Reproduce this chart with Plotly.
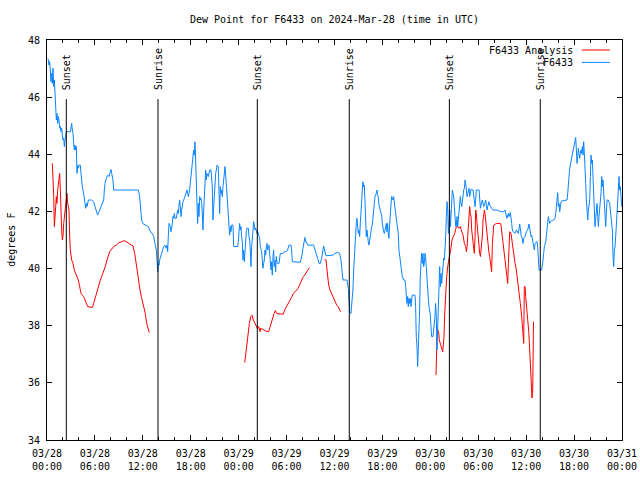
import plotly.graph_objects as go
from datetime import datetime, timedelta

BASE = datetime(2024, 3, 28)

# ---- F6433 observations (hours since 2024-03-28 00:00 UTC, dew point degF)
blue_h = [0.10,0.17,0.25,0.33,0.42,0.50,0.58,0.67,0.75,0.84,0.92,1.00,1.09,1.17,1.25,1.34,1.42,1.50,1.59,1.67,1.75,1.84,1.92,2.00,2.09,2.17,2.25,2.34,2.42,2.92,3.01,3.09,3.17,3.26,3.34,3.42,3.51,3.59,3.67,3.76,3.84,3.92,4.01,4.17,4.26,4.34,4.42,4.59,4.67,4.76,4.84,4.93,5.01,5.18,5.59,5.84,6.01,6.18,6.34,6.43,6.59,6.76,6.93,7.10,7.18,7.26,7.43,7.60,7.76,7.93,8.01,8.10,8.26,8.35,11.44,11.60,11.69,11.85,12.02,12.44,12.69,12.85,13.02,13.19,13.36,13.52,13.69,13.77,13.86,13.94,14.02,14.11,14.27,14.44,14.61,14.77,14.94,15.03,15.11,15.19,15.28,15.44,15.53,15.61,15.69,15.78,15.86,15.94,16.03,16.19,16.36,16.44,16.53,16.61,16.69,16.78,16.86,17.03,17.20,17.36,17.53,17.61,17.70,17.86,17.95,18.20,18.28,18.36,18.45,18.53,18.61,18.70,18.78,18.86,18.95,19.03,19.12,19.20,19.28,19.37,19.45,19.53,19.62,19.70,19.78,19.87,19.95,20.03,20.20,20.37,20.53,20.62,20.70,20.78,20.87,20.95,21.04,21.12,21.20,21.29,21.45,21.54,21.62,21.70,21.79,21.87,21.95,22.04,22.20,22.29,22.45,22.62,22.70,22.79,22.87,22.95,23.04,23.12,23.29,23.37,23.87,23.96,24.04,24.12,24.21,24.29,24.37,24.46,24.54,24.62,24.71,24.79,24.87,24.96,25.04,25.21,25.29,25.38,25.46,25.54,25.63,25.71,25.79,25.88,25.96,26.04,26.13,26.29,26.38,26.54,26.63,26.71,26.79,26.88,26.96,27.04,27.13,27.21,27.30,27.38,27.46,27.55,27.63,27.71,27.80,27.88,27.96,28.05,28.13,28.21,28.30,28.38,28.46,28.55,28.63,28.71,28.80,28.88,29.05,29.13,29.21,29.55,29.72,29.97,30.13,30.30,30.55,30.63,30.72,31.72,31.80,31.97,32.05,32.14,32.22,32.30,32.39,32.47,32.64,33.39,33.56,33.72,33.89,34.06,34.22,34.39,34.56,34.64,34.72,34.89,35.06,35.81,36.06,36.39,36.64,36.73,36.81,36.89,36.98,37.06,37.56,37.65,37.73,37.81,37.90,38.06,38.15,38.23,38.31,38.40,38.48,38.56,38.65,38.73,38.81,38.90,38.98,39.06,39.15,39.23,39.31,39.40,39.48,39.56,39.65,39.73,39.82,39.90,39.98,40.07,40.15,40.23,40.32,40.40,40.48,40.57,40.65,40.73,40.82,40.90,41.07,41.23,41.32,41.40,41.48,41.57,41.74,41.90,41.99,42.07,42.15,42.24,42.32,42.40,42.49,42.57,42.65,42.74,42.82,42.90,42.99,43.07,43.15,43.24,43.32,43.40,43.49,43.57,43.66,43.82,43.99,44.07,44.24,44.32,44.49,44.66,44.82,44.91,44.99,45.07,45.16,45.24,45.32,45.41,45.49,45.58,45.66,45.74,46.08,46.16,46.24,46.33,46.41,46.49,46.58,46.66,46.74,46.83,46.91,46.99,47.08,47.16,47.24,47.33,47.41,47.49,47.58,47.75,47.83,48.00,48.08,48.16,48.33,48.41,48.50,48.58,48.66,48.75,48.83,48.92,49.01,49.09,49.17,49.26,49.34,49.42,49.51,49.59,49.67,49.76,49.84,49.92,50.01,50.09,50.18,50.26,50.34,50.43,50.51,50.59,50.68,50.76,50.84,50.93,51.01,51.09,51.18,51.26,51.34,51.43,51.51,51.59,51.68,51.76,51.85,51.93,52.01,52.10,52.18,52.26,52.35,52.43,52.51,52.60,52.68,52.76,52.85,52.93,53.01,53.10,53.35,53.51,53.60,53.68,53.76,54.10,54.18,54.27,54.35,54.43,54.52,54.60,54.68,54.77,54.85,54.93,55.02,55.10,55.18,55.27,55.35,55.43,55.52,55.68,55.85,56.35,56.77,57.19,57.35,57.52,57.60,57.77,57.85,58.02,58.10,58.19,58.27,58.36,58.61,58.77,59.02,59.11,59.19,59.27,59.36,59.52,59.61,59.69,59.86,60.03,60.19,60.36,60.44,60.53,60.61,60.69,60.78,60.86,60.94,61.03,61.11,61.36,61.44,61.53,61.61,61.94,62.03,62.11,62.19,62.28,62.45,62.53,62.61,62.70,62.78,62.86,62.95,63.03,63.20,63.45,63.61,63.70,63.78,63.86,63.95,64.03,64.12,64.20,64.28,64.37,64.62,65.12,65.20,65.28,65.37,65.45,65.53,65.62,65.70,65.79,65.87,65.95,66.04,66.12,66.20,66.29,66.37,66.45,66.54,66.62,66.70,66.79,66.87,66.95,67.04,67.12,67.20,67.29,67.37,67.45,67.54,67.62,67.71,67.79,67.87,67.96,68.04,68.12,68.21,68.29,68.37,68.46,68.54,68.62,68.71,68.79,68.87,68.96,69.04,69.12,69.21,69.29,69.37,69.46,69.54,69.62,69.71,69.79,69.88,69.96,70.04,70.13,70.29,70.46,70.54,70.71,70.79,70.88,70.96,71.04,71.13,71.21,71.29,71.38,71.46,71.54,71.63,71.71,71.79,71.88,71.96]
blue_v = [47.35,47.30,47.12,47.24,46.95,46.54,46.83,46.48,47.01,46.37,46.60,46.13,45.49,45.20,45.43,45.08,45.32,45.20,44.91,44.97,44.79,44.91,44.67,44.50,44.56,44.27,44.50,44.67,44.79,44.79,44.91,45.08,44.85,44.73,44.38,44.15,44.32,44.15,44.27,43.33,43.62,43.51,43.62,43.62,43.33,42.98,42.87,42.63,42.28,42.28,42.11,42.28,42.17,42.40,42.40,42.34,42.17,42.05,41.87,41.93,42.05,42.17,42.34,42.40,42.75,42.98,43.16,43.27,43.22,43.45,43.47,43.33,43.10,42.75,42.75,42.52,42.05,41.70,41.57,41.50,41.47,41.35,41.26,41.23,41.12,40.88,40.65,40.30,39.89,40.18,40.12,40.30,40.47,40.65,40.77,40.82,40.71,40.82,40.59,41.12,41.58,41.47,41.29,41.41,41.58,41.82,41.76,41.93,41.76,41.76,42.05,41.93,42.22,42.40,42.17,41.82,42.05,42.34,42.46,42.63,42.75,42.63,42.52,42.75,42.98,43.51,43.92,44.15,43.97,44.44,43.80,42.98,42.28,41.58,42.28,41.82,42.52,42.40,42.46,42.28,41.93,41.35,42.05,42.52,42.87,43.45,43.10,43.33,43.22,43.45,43.45,43.22,42.87,41.70,42.17,42.52,43.22,43.33,43.45,43.62,43.57,42.75,41.93,42.87,42.63,42.75,42.52,42.87,43.27,43.57,42.98,42.17,41.58,41.47,41.17,41.47,41.29,41.52,41.52,40.77,40.77,40.94,41.35,41.58,41.35,41.47,41.12,40.94,40.30,40.65,40.24,40.77,41.12,41.29,41.41,41.41,41.12,41.00,40.65,40.07,40.77,41.12,41.35,41.64,41.52,41.35,41.41,41.23,41.29,41.06,41.06,40.77,40.65,40.59,40.30,40.01,40.18,40.30,40.65,40.47,40.77,40.88,40.65,40.77,40.82,40.53,40.18,39.95,40.24,39.77,40.42,40.65,40.07,40.30,39.89,40.42,40.24,40.18,40.18,40.42,40.53,40.53,40.59,40.59,40.65,40.82,40.82,40.65,40.24,40.22,40.30,40.53,40.71,40.88,41.00,41.09,40.94,40.94,40.82,40.82,40.65,40.53,40.36,40.18,40.18,40.36,40.65,40.79,40.71,40.47,40.45,40.47,40.53,40.57,40.53,40.45,40.30,40.07,39.77,39.60,39.60,39.48,39.31,38.90,38.49,38.43,38.67,39.02,39.25,39.95,40.42,40.88,41.12,41.58,41.76,41.47,41.23,41.35,41.12,41.58,41.82,42.34,42.75,43.04,42.87,42.92,42.34,41.70,41.12,41.35,41.00,40.94,40.82,41.00,41.29,41.29,41.47,41.52,41.82,42.22,42.52,42.63,42.75,42.57,42.52,42.22,42.05,41.87,41.58,41.35,41.29,41.23,41.35,41.47,41.58,41.29,41.58,41.17,41.06,41.52,42.05,42.28,42.52,42.46,42.40,42.52,42.22,42.17,41.93,41.58,41.23,40.65,40.30,40.07,39.72,39.60,39.60,39.37,38.96,38.78,39.02,38.67,38.96,38.78,38.96,38.67,38.90,39.07,39.07,38.67,37.62,37.27,36.57,37.03,37.73,38.55,39.72,40.42,40.53,40.18,40.53,40.07,40.18,40.53,40.42,40.07,39.48,38.96,38.67,38.38,37.97,37.62,37.62,37.85,37.97,38.32,38.78,38.32,37.15,37.85,38.55,39.48,40.07,39.37,39.83,39.48,39.72,40.18,40.36,40.30,40.65,41.12,41.82,42.34,42.05,41.23,41.58,42.05,41.47,41.82,42.40,42.75,42.63,42.52,42.17,41.82,41.47,41.52,41.82,41.47,41.70,41.82,42.22,42.52,42.28,42.17,42.34,42.63,42.75,42.81,43.10,42.98,42.75,42.52,42.63,42.75,42.81,42.52,42.69,42.77,42.75,42.40,42.17,42.40,42.75,42.75,42.28,42.11,42.22,42.34,42.40,42.28,42.17,42.22,42.34,42.40,42.22,42.05,42.17,42.28,42.34,42.22,42.17,42.11,42.05,42.05,41.99,41.99,42.05,41.82,41.76,41.93,41.82,41.96,41.82,41.58,41.35,41.29,41.23,41.35,41.23,41.47,41.56,41.41,41.17,41.06,40.88,41.06,41.12,41.29,41.35,41.56,41.35,41.23,41.12,41.17,41.00,40.88,40.71,40.65,40.88,40.94,40.77,40.30,39.95,39.95,40.07,40.30,40.53,40.77,40.94,41.12,41.35,41.64,41.82,41.70,41.58,41.64,41.68,41.70,41.76,41.93,42.28,42.40,42.66,42.17,42.28,41.99,42.17,42.34,42.38,42.40,42.63,43.10,43.22,43.51,43.62,43.80,43.92,44.03,44.15,44.27,44.33,44.56,44.59,44.15,43.68,43.92,44.21,44.03,43.86,44.03,44.15,44.03,44.27,43.97,44.44,44.03,43.68,42.98,42.40,42.17,41.70,42.05,42.17,42.40,43.22,43.97,43.68,43.80,43.22,42.52,41.82,41.47,41.76,42.05,42.28,41.82,41.47,41.82,42.05,42.28,42.63,43.22,42.87,43.10,42.75,42.28,41.82,41.47,41.93,42.40,42.40,42.28,42.05,41.70,41.35,40.42,40.07,40.65,40.77,41.12,41.47,41.82,42.52,42.75,43.22,42.75,42.87,42.52,42.17]

# ---- F6433 Analysis (None = gap in the series)
red_h = [0.67,0.75,0.84,0.92,1.00,1.09,1.17,1.25,1.34,1.42,1.50,1.59,1.67,1.75,1.84,1.92,2.00,2.09,2.17,2.25,2.34,2.42,2.50,2.59,2.67,2.75,2.84,2.92,3.09,3.26,3.42,3.59,3.76,3.92,4.09,4.26,4.42,4.59,4.76,4.93,5.09,5.26,5.68,5.84,6.01,6.18,6.34,6.51,6.68,6.85,7.01,7.18,7.35,7.51,7.68,7.85,8.01,8.35,8.68,9.02,9.35,9.68,10.02,10.43,10.77,10.98,11.14,11.31,11.48,11.65,11.81,11.98,12.15,12.31,12.48,12.65,12.81,
         None,
         24.76,24.92,25.17,25.34,25.51,25.67,25.84,26.18,26.34,26.51,26.68,26.76,27.09,27.43,27.76,27.93,28.10,28.26,28.43,28.60,28.76,29.18,29.60,29.76,30.02,30.27,30.43,30.68,30.85,31.10,31.27,31.43,31.60,31.77,31.93,32.10,32.27,32.44,32.60,32.85,
         None,
         34.77,34.94,35.02,35.11,35.19,35.27,35.44,35.61,35.77,35.94,36.11,36.28,36.44,36.61,36.78,
         None,
         48.71,48.80,48.87,49.05,49.12,49.30,49.46,49.55,49.63,49.71,49.80,49.88,49.96,50.05,50.13,50.21,50.30,50.55,50.71,50.88,51.05,51.26,51.43,51.59,51.76,51.93,52.10,52.26,52.43,52.51,52.60,52.68,52.76,52.85,52.93,53.01,53.10,53.18,53.26,53.35,53.43,53.51,53.60,53.68,53.76,53.85,53.93,54.02,54.10,54.18,54.27,54.35,54.43,54.52,54.60,54.68,54.77,54.85,54.93,55.02,55.10,55.18,55.27,55.35,55.43,55.52,55.60,55.68,55.77,55.85,55.94,56.27,56.77,56.85,56.94,57.02,57.10,57.19,57.27,57.35,57.44,57.60,57.69,57.77,57.85,57.94,58.10,58.27,58.36,58.44,58.61,58.77,58.94,59.11,59.27,59.44,59.52,59.61,59.69,59.77,59.86,59.94,60.03,60.15,60.23,60.32,60.40,60.48,60.57,60.65,60.73,60.82,60.90,60.92]
red_v = [43.68,43.22,42.52,41.47,41.70,42.17,42.52,42.28,42.75,42.98,43.22,43.33,42.75,41.82,41.35,41.00,41.12,41.58,41.82,42.05,42.28,42.52,42.63,42.28,42.17,42.05,41.12,40.65,40.30,40.18,39.95,39.83,39.72,39.60,39.37,39.13,39.07,39.02,38.90,38.78,38.67,38.66,38.64,38.78,38.96,39.13,39.31,39.48,39.60,39.72,39.83,39.95,40.12,40.30,40.47,40.59,40.65,40.77,40.82,40.91,40.94,40.98,40.92,40.86,40.79,40.53,40.18,39.95,39.60,39.25,39.02,38.84,38.67,38.43,38.08,37.85,37.76,
         None,
         36.71,37.15,37.62,38.08,38.32,38.37,38.20,37.97,37.91,37.97,37.79,37.91,37.85,37.81,37.79,37.97,38.14,38.32,38.43,38.53,38.43,38.41,38.41,38.55,38.67,38.78,38.90,39.02,39.13,39.19,39.25,39.31,39.42,39.54,39.62,39.72,39.77,39.86,39.95,40.03,
         None,
         40.32,40.30,40.07,39.83,39.60,39.42,39.25,39.13,39.02,38.90,38.78,38.72,38.67,38.57,38.49,
         None,
         36.27,37.15,37.92,37.74,37.50,37.33,37.20,37.09,37.33,37.62,38.43,39.02,39.48,39.72,39.95,40.18,40.30,40.65,41.00,41.12,41.23,41.47,41.47,41.41,41.47,41.29,41.17,40.88,40.77,40.59,40.77,41.12,41.58,42.17,42.17,41.93,41.82,41.35,41.12,40.88,40.77,40.53,41.12,42.05,41.93,41.58,41.23,40.88,40.65,40.53,40.42,40.65,40.88,41.17,41.70,41.82,42.05,41.93,41.70,41.35,41.00,40.77,40.65,40.53,40.42,40.18,40.07,39.89,40.88,41.41,41.52,41.58,41.58,41.52,41.29,41.12,40.88,40.59,40.42,40.18,39.95,39.72,39.48,40.18,40.65,41.29,41.23,40.88,40.59,40.42,40.18,39.95,39.60,39.25,38.78,38.32,37.85,37.50,37.38,39.37,39.37,39.02,38.78,38.50,38.10,37.80,37.40,36.90,36.87,36.10,35.47,35.75,36.80,38.14]

# ---- sun events
sun_times = ["2024-03-28 02:25", "2024-03-28 13:54", "2024-03-29 02:20",
             "2024-03-29 13:51", "2024-03-30 02:23", "2024-03-30 13:46"]
sun_labels = ["Sunset", "Sunrise", "Sunset", "Sunrise", "Sunset", "Sunrise"]
sun_line_top = 45.93
sun_label_y = 46.18

# ---- axes
x_tick_vals = ["2024-03-28 00:00", "2024-03-28 06:00", "2024-03-28 12:00", "2024-03-28 18:00",
               "2024-03-29 00:00", "2024-03-29 06:00", "2024-03-29 12:00", "2024-03-29 18:00",
               "2024-03-30 00:00", "2024-03-30 06:00", "2024-03-30 12:00", "2024-03-30 18:00",
               "2024-03-31 00:00"]
x_tick_text = ["03/28<br>00:00", "03/28<br>06:00", "03/28<br>12:00", "03/28<br>18:00",
               "03/29<br>00:00", "03/29<br>06:00", "03/29<br>12:00", "03/29<br>18:00",
               "03/30<br>00:00", "03/30<br>06:00", "03/30<br>12:00", "03/30<br>18:00",
               "03/31<br>00:00"]
y_range = [34, 48]
legend_names = ["F6433 Analysis", "F6433"]
colors = ["#ff0000", "#0a84ff"]


def to_t(hs):
    return [None if h is None else BASE + timedelta(hours=h) for h in hs]


FONT = "DejaVu Sans Mono"

fig = go.Figure()
fig.add_trace(go.Scatter(x=to_t(red_h), y=red_v, mode="lines", name=legend_names[0],
                         line=dict(color=colors[0], width=1), connectgaps=False))
fig.add_trace(go.Scatter(x=to_t(blue_h), y=blue_v, mode="lines", name=legend_names[1],
                         line=dict(color=colors[1], width=1)))

for t, lab in zip(sun_times, sun_labels):
    fig.add_shape(type="line", xref="x", yref="y", x0=t, x1=t, y0=y_range[0], y1=sun_line_top,
                  line=dict(color="black", width=1))
    fig.add_annotation(x=t, y=sun_label_y, xref="x", yref="y", text=lab, textangle=-90,
                       showarrow=False, xanchor="center", yanchor="bottom",
                       font=dict(family=FONT, size=10, color="black"))

# gnuplot-style key (text right, sample line on the right)
key_rows = [0.975, 0.944]
for name, col, yy in zip(legend_names, colors, key_rows):
    fig.add_annotation(x=0.918, y=yy, xref="paper", yref="paper", text=name, showarrow=False,
                       xanchor="right", yanchor="middle", font=dict(family=FONT, size=10, color="black"))
    fig.add_shape(type="line", xref="paper", yref="paper", x0=0.930, x1=0.979, y0=yy, y1=yy,
                  line=dict(color=col, width=1))

fig.add_annotation(x=-0.063, y=0.5, xref="paper", yref="paper", text="degrees F", textangle=-90,
                   showarrow=False, xanchor="center", yanchor="middle",
                   font=dict(family=FONT, size=10, color="black"))

fig.update_layout(
    width=640, height=480,
    margin=dict(l=47, r=18, t=40, b=40, autoexpand=False),
    paper_bgcolor="white", plot_bgcolor="white",
    showlegend=False,
    font=dict(family=FONT, size=10, color="black"),
    title=dict(text="Dew Point for F6433 on 2024-Mar-28 (time in UTC)", x=0.5, xref="paper",
               xanchor="center", y=1 - 19 / 480, yref="container", yanchor="middle",
               font=dict(family=FONT, size=10, color="black")),
)
fig.update_xaxes(type="date", range=[x_tick_vals[0], x_tick_vals[-1]], automargin=False,
                 tickmode="array", tickvals=x_tick_vals, ticktext=x_tick_text,
                 ticks="inside", ticklen=5, tickcolor="black", tickwidth=1,
                 showline=True, linecolor="black", linewidth=1, mirror="allticks",
                 showgrid=False, zeroline=False, ticklabelstandoff=4,
                 minor=dict(ticks="inside", ticklen=3, tickcolor="black", tickwidth=1,
                            tick0="2024-03-28", dtick=2 * 3600 * 1000, showgrid=False),
                 tickfont=dict(family=FONT, size=10, color="black"))
fig.update_yaxes(range=y_range, tick0=34, dtick=2, automargin=False,
                 ticks="inside", ticklen=5, tickcolor="black", tickwidth=1,
                 showline=True, linecolor="black", linewidth=1, mirror="allticks",
                 showgrid=False, zeroline=False, ticklabelstandoff=4,
                 tickfont=dict(family=FONT, size=10, color="black"))

fig.write_html("out.html", config={"displayModeBar": False},
               post_script="document.body.style.margin='0';document.body.style.overflow='hidden';")
